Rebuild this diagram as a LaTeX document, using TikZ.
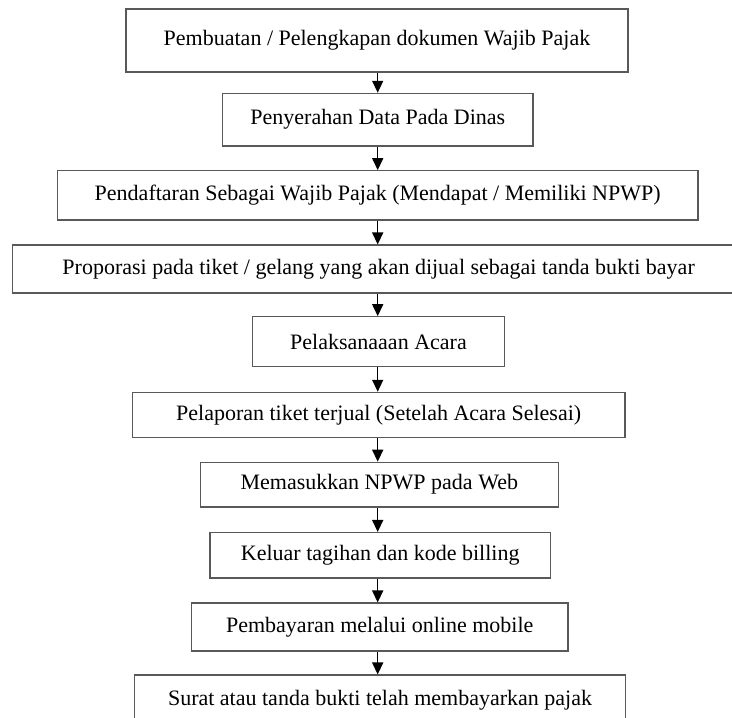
\documentclass[tikz,border=0pt]{standalone}
\usepackage{fontspec}
\setmainfont{Liberation Serif}
\usetikzlibrary{arrows.meta}
\begin{document}
\begin{tikzpicture}[x=1pt,y=1pt,
  box/.style={draw=black!65, line width=1.1pt, inner sep=0pt, align=center,
    font=\fontsize{22}{26}\selectfont},
  arr/.style={draw=black, line width=1.5pt, -{Triangle[width=11pt,length=12pt]}}]
\useasboundingbox (0,0) rectangle (732,-718);
\clip (0,0) rectangle (732,-718);
\coordinate (ax) at (377.7,0);
\node[box, minimum width=502pt,   minimum height=63pt]   (b1)  at (377,-40.5)    {Pembuatan / Pelengkapan dokumen Wajib Pajak};
\node[box, minimum width=310.3pt, minimum height=52.7pt] (b2)  at (377.85,-119.65) {Penyerahan Data Pada Dinas};
\node[box, minimum width=640.7pt, minimum height=49.3pt] (b3)  at (377.65,-195.35) {Pendaftaran Sebagai Wajib Pajak (Mendapat / Memiliki NPWP)};
\node[box, minimum width=732.6pt, minimum height=48pt]   (b4)  at (378.6,-269)   {Proporasi pada tiket / gelang yang akan dijual sebagai tanda bukti bayar};
\node[box, minimum width=251.6pt, minimum height=50pt]   (b5)  at (378.5,-341.7) {Pelaksanaaan Acara};
\node[box, minimum width=492.7pt, minimum height=45pt]   (b6)  at (378.65,-414.8) {Pelaporan tiket terjual (Setelah Acara Selesai)};
\node[box, minimum width=357.5pt, minimum height=44.7pt] (b7)  at (379.3,-484.6) {Memasukkan NPWP pada Web};
\node[box, minimum width=340.5pt, minimum height=45.5pt] (b8)  at (380.25,-555.25) {Keluar tagihan dan kode billing};
\node[box, minimum width=376.5pt, minimum height=48pt]   (b9)  at (379.75,-627) {Pembayaran melalui online mobile};
\node[box, minimum width=491pt,   minimum height=50pt]   (b10) at (380,-700)   {Surat atau tanda bukti telah membayarkan pajak};
\foreach \a/\b in {b1/b2,b2/b3,b3/b4,b4/b5,b5/b6,b6/b7,b7/b8,b8/b9,b9/b10}
  \draw[arr] (\a.south -| ax) -- (\b.north -| ax);
\end{tikzpicture}
\end{document}
